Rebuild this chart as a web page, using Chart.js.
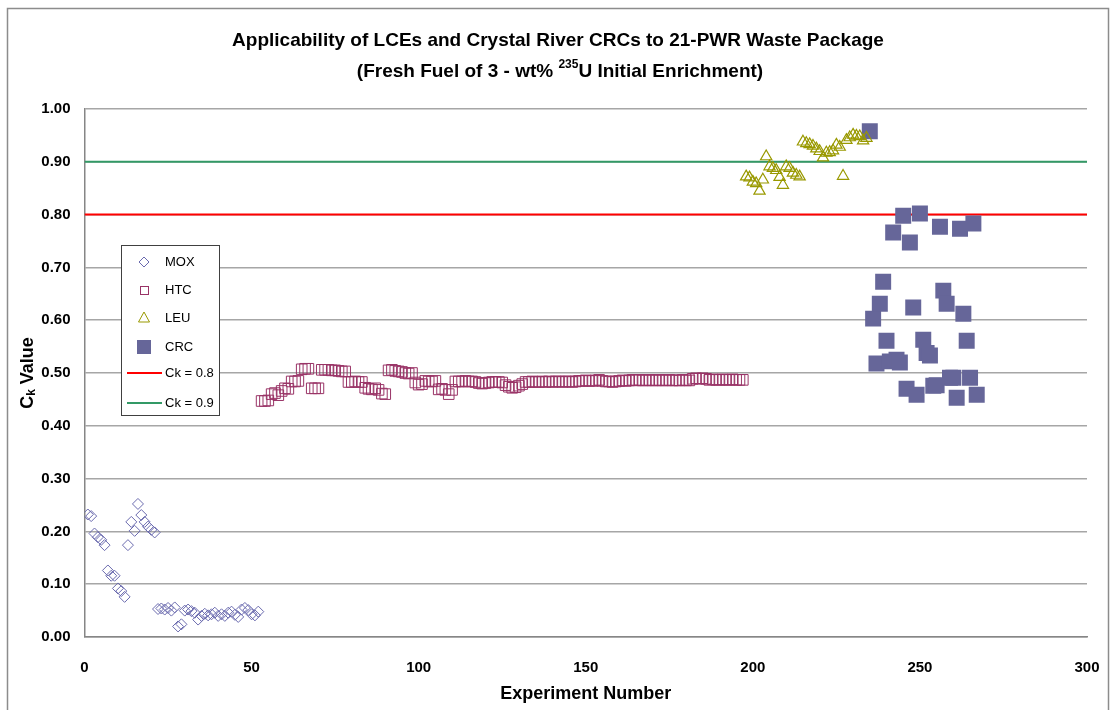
<!DOCTYPE html>
<html>
<head>
<meta charset="utf-8">
<script src="https://cdn.jsdelivr.net/npm/chart.js@4"></script>
<style>
  body { margin: 0; background: #fff; }
  #wrap { position: relative; width: 1110px; height: 710px; }
</style>
</head>
<body>
<div id="wrap"><canvas id="myChart" width="1110" height="710"></canvas></div>
<script>
// experiment numbers are consecutive within each series
const moxStart = 1;
const moxValues = [0.232, 0.229, 0.196, 0.189, 0.184, 0.174, 0.126, 0.116, 0.116, 0.092,
  0.087, 0.076, 0.174, 0.218, 0.201, 0.252, 0.231, 0.218, 0.209, 0.203,
  0.198, 0.053, 0.054, 0.052, 0.055, 0.050, 0.056, 0.020, 0.024, 0.050,
  0.052, 0.049, 0.046, 0.033, 0.040, 0.044, 0.041, 0.043, 0.046, 0.040,
  0.043, 0.040, 0.046, 0.048, 0.042, 0.038, 0.052, 0.055, 0.051, 0.043,
  0.041, 0.048];

const htcStart = 53;
const htcValues = [0.447, 0.447, 0.448, 0.460, 0.462, 0.458, 0.466, 0.471, 0.470, 0.484,
  0.484, 0.485, 0.507, 0.508, 0.508, 0.471, 0.471, 0.471, 0.506, 0.506,
  0.506, 0.505, 0.505, 0.504, 0.503, 0.503, 0.483, 0.483, 0.484, 0.483,
  0.483, 0.472, 0.470, 0.469, 0.471, 0.468, 0.461, 0.460, 0.505, 0.506,
  0.504, 0.503, 0.502, 0.500, 0.499, 0.500, 0.482, 0.478, 0.479, 0.485,
  0.484, 0.484, 0.485, 0.469, 0.470, 0.468, 0.460, 0.468, 0.484, 0.484,
  0.484, 0.485, 0.484, 0.484, 0.483, 0.481, 0.480, 0.481, 0.482, 0.483,
  0.483, 0.483, 0.482, 0.477, 0.474, 0.472, 0.473, 0.476, 0.479, 0.483,
  0.483, 0.484, 0.483, 0.483, 0.484, 0.483, 0.484, 0.483, 0.484, 0.484,
  0.483, 0.484, 0.484, 0.483, 0.484, 0.485, 0.485, 0.486, 0.485, 0.485,
  0.486, 0.487, 0.485, 0.484, 0.484, 0.483, 0.484, 0.485, 0.486, 0.485,
  0.486, 0.487, 0.486, 0.487, 0.486, 0.486, 0.487, 0.486, 0.486, 0.487,
  0.486, 0.486, 0.487, 0.486, 0.486, 0.486, 0.487, 0.486, 0.486, 0.489,
  0.490, 0.489, 0.490, 0.489, 0.487, 0.488, 0.487, 0.487, 0.488, 0.487,
  0.487, 0.488, 0.487, 0.487, 0.487];

const leuStart = 198;
const leuValues = [0.872, 0.870, 0.862, 0.859, 0.845, 0.866, 0.910, 0.891, 0.888, 0.884,
  0.871, 0.856, 0.891, 0.888, 0.879, 0.875, 0.872, 0.938, 0.935, 0.933,
  0.930, 0.925, 0.920, 0.908, 0.917, 0.918, 0.921, 0.932, 0.928, 0.873,
  0.941, 0.946, 0.951, 0.949, 0.948, 0.940, 0.945];

const crcStart = 235;
const crcValues = [0.958, 0.603, 0.518, 0.631, 0.673, 0.561, 0.522, 0.766, 0.525, 0.520,
  0.798, 0.470, 0.747, 0.624, 0.459, 0.802, 0.563, 0.538, 0.533, 0.476,
  0.477, 0.777, 0.656, 0.631, 0.491, 0.491, 0.453, 0.773, 0.612, 0.561,
  0.491, 0.783, 0.459];

const ckLevels = [0.8, 0.9];
const xTicks = [0, 50, 100, 150, 200, 250, 300];
const yTicks = [0, 0.1, 0.2, 0.3, 0.4, 0.5, 0.6, 0.7, 0.8, 0.9, 1.0];

const titleLine1 = 'Applicability of LCEs and Crystal River CRCs to 21-PWR Waste Package';
const titleLine2a = '(Fresh Fuel of 3 - wt% ';
const titleSup = '235';
const titleLine2b = 'U Initial Enrichment)';

const cMox = '#6a6aae';
const cHtc = '#993366';
const cLeu = '#999900';
const cCrc = '#666699';
const cRed = '#ff0000';
const cGreen = '#339966';

function puntos(start, values) {
  return values.map((v, i) => ({ x: start + i, y: v }));
}

function lineaNivel(v) {
  return [{ x: xTicks[0], y: v }, { x: xTicks[xTicks.length - 1], y: v }];
}

const FONT = '"Liberation Sans", Arial, sans-serif';
const NARROW = '"Liberation Sans Narrow", "Liberation Sans", Arial, sans-serif';

// titles, axis titles, legend and page border drawn by hand
const textosPlugin = {
  id: 'textos',
  afterDraw(chart) {
    const c = chart.ctx;
    const area = chart.chartArea;
    c.save();

    // outer border
    c.strokeStyle = '#8c8c8c';
    c.lineWidth = 1.5;
    c.strokeRect(7.5, 8.5, 1101, 720);

    // title
    c.fillStyle = '#000';
    c.textBaseline = 'middle';
    c.textAlign = 'center';
    c.font = 'bold 19px ' + NARROW;
    c.fillText(titleLine1, 558, 41);
    const f2 = 'bold 19px ' + NARROW;
    const fs = 'bold 12px ' + NARROW;
    c.font = f2;
    const wa = c.measureText(titleLine2a).width;
    const wb = c.measureText(titleLine2b).width;
    c.font = fs;
    const ws = c.measureText(titleSup).width;
    let x0 = 560 - (wa + ws + wb) / 2;
    c.textAlign = 'left';
    c.font = f2;
    c.fillText(titleLine2a, x0, 72);
    c.font = fs;
    c.fillText(titleSup, x0 + wa, 65);
    c.font = f2;
    c.fillText(titleLine2b, x0 + wa + ws, 72);

    // x axis title
    c.textAlign = 'center';
    c.font = 'bold 18px ' + FONT;
    c.fillText('Experiment Number', (area.left + area.right) / 2, 694);

    // y axis title with subscript
    c.save();
    c.translate(28, (area.top + area.bottom) / 2);
    c.rotate(-Math.PI / 2);
    const fc = 'bold 18px ' + FONT;
    const fk = 'bold 12px ' + FONT;
    c.font = fc;
    const wC = c.measureText('C').width;
    const wV = c.measureText(' Value').width;
    c.font = fk;
    const wk = c.measureText('k').width;
    let sx = -(wC + wk + wV) / 2;
    c.textAlign = 'left';
    c.font = fc;
    c.fillText('C', sx, 0);
    c.font = fk;
    c.fillText('k', sx + wC, 4);
    c.font = fc;
    c.fillText(' Value', sx + wC + wk, 0);
    c.restore();

    // legend
    const lx = 121, ly = 245, lw = 98, lh = 170;
    c.fillStyle = '#fff';
    c.fillRect(lx, ly, lw, lh);
    c.strokeStyle = '#404040';
    c.lineWidth = 1;
    c.strokeRect(lx + 0.5, ly + 0.5, lw, lh);
    const filas = [262, 290, 318, 347, 373, 403];
    const mx = 144;
    c.lineWidth = 1;
    // MOX diamond
    c.strokeStyle = cMox;
    c.beginPath();
    c.moveTo(mx, filas[0] - 5); c.lineTo(mx + 5, filas[0]);
    c.lineTo(mx, filas[0] + 5); c.lineTo(mx - 5, filas[0]); c.closePath();
    c.stroke();
    // HTC square
    c.strokeStyle = cHtc;
    c.strokeRect(mx - 3.5, filas[1] - 3.5, 8, 8);
    // LEU triangle
    c.strokeStyle = cLeu;
    c.beginPath();
    c.moveTo(mx, filas[2] - 6); c.lineTo(mx + 5.5, filas[2] + 4);
    c.lineTo(mx - 5.5, filas[2] + 4); c.closePath();
    c.stroke();
    // CRC filled square
    c.fillStyle = cCrc;
    c.fillRect(mx - 7, filas[3] - 7, 14, 14);
    // reference lines
    c.lineWidth = 2;
    c.strokeStyle = cRed;
    c.beginPath(); c.moveTo(127, filas[4]); c.lineTo(162, filas[4]); c.stroke();
    c.strokeStyle = cGreen;
    c.beginPath(); c.moveTo(127, filas[5]); c.lineTo(162, filas[5]); c.stroke();
    c.fillStyle = '#000';
    c.font = '13px ' + FONT;
    c.textAlign = 'left';
    const nombres = ['MOX', 'HTC', 'LEU', 'CRC', 'Ck = 0.8', 'Ck = 0.9'];
    nombres.forEach((n, i) => c.fillText(n, 165, filas[i]));
    c.restore();
  }
};

const ctx = document.getElementById('myChart');
const myChart = new Chart(ctx, {
  type: 'scatter',
  data: {
    datasets: [
      { label: 'MOX', data: puntos(moxStart, moxValues), pointStyle: 'rectRot', pointRadius: 5.5,
        borderColor: cMox, backgroundColor: 'rgba(0,0,0,0)', borderWidth: 1 },
      { label: 'HTC', data: puntos(htcStart, htcValues), pointStyle: 'rect', pointRadius: 7.5,
        borderColor: cHtc, backgroundColor: 'rgba(0,0,0,0)', borderWidth: 1 },
      { label: 'LEU', data: puntos(leuStart, leuValues), pointStyle: 'triangle', pointRadius: 6.5,
        borderColor: cLeu, backgroundColor: 'rgba(0,0,0,0)', borderWidth: 1.2 },
      { label: 'CRC', data: puntos(crcStart, crcValues), pointStyle: 'rect', pointRadius: 11.3,
        borderColor: cCrc, backgroundColor: cCrc, borderWidth: 0 },
      { label: 'Ck = 0.8', type: 'line', data: lineaNivel(ckLevels[0]), borderColor: cRed,
        borderWidth: 2, pointRadius: 0, showLine: true, fill: false },
      { label: 'Ck = 0.9', type: 'line', data: lineaNivel(ckLevels[1]), borderColor: cGreen,
        borderWidth: 2, pointRadius: 0, showLine: true, fill: false }
    ]
  },
  options: {
    responsive: false,
    animation: false,
    layout: { padding: { left: 0, top: 109, right: 23, bottom: 0 } },
    plugins: {
      legend: { display: false },
      title: { display: false },
      tooltip: { enabled: false }
    },
    scales: {
      x: {
        type: 'linear', min: xTicks[0], max: xTicks[xTicks.length - 1],
        afterBuildTicks: (s) => { s.ticks = xTicks.map(v => ({ value: v })); },
        afterFit: (s) => { s.height = 73; s.paddingLeft = 0; s.paddingRight = 0; },
        grid: { display: false, drawTicks: false },
        border: { color: '#868686', width: 1.5 },
        ticks: { color: '#000', padding: 22, font: { family: FONT, size: 15, weight: 'bold' } }
      },
      y: {
        type: 'linear', min: yTicks[0], max: yTicks[yTicks.length - 1],
        afterBuildTicks: (s) => { s.ticks = yTicks.map(v => ({ value: v })); },
        afterFit: (s) => { s.width = 84.5; s.paddingTop = 0; s.paddingBottom = 0; },
        grid: { color: '#a6a6a6', lineWidth: 1.5, drawTicks: false },
        border: { color: '#868686', width: 1.5 },
        ticks: { color: '#000', padding: 14, font: { family: FONT, size: 15, weight: 'bold' },
          callback: (v) => Number(v).toFixed(2) }
      }
    }
  },
  plugins: [textosPlugin]
});
</script>
</body>
</html>
